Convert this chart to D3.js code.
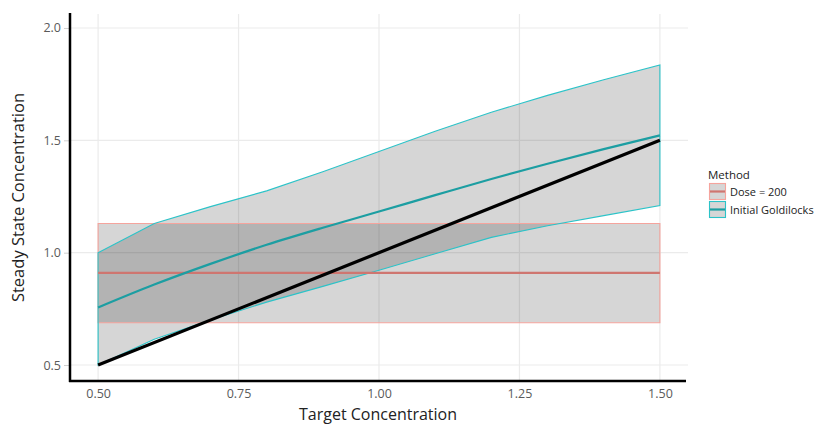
<!DOCTYPE html>
<html><head><meta charset="utf-8">
<script src="https://cdn.jsdelivr.net/npm/d3@7"></script>
<style>body{margin:0;background:#fff}svg{display:block}</style>
</head><body><svg id="c" width="816" height="426"></svg>
<script>
const targets = [0.5,0.6,0.7,0.8,0.9,1.0,1.1,1.2,1.3,1.4,1.5];
const goldMean  = [0.756,0.858,0.950,1.035,1.111,1.183,1.256,1.328,1.396,1.461,1.522];
const goldUpper = [1.00,1.13,1.205,1.275,1.36,1.45,1.54,1.625,1.70,1.77,1.835];
const goldLower = [0.50,0.615,0.70,0.78,0.85,0.922,0.995,1.068,1.12,1.165,1.21];
const doseMean  = [0.91,0.91,0.91,0.91,0.91,0.91,0.91,0.91,0.91,0.91,0.91];
const doseUpper = [1.13,1.13,1.13,1.13,1.13,1.13,1.13,1.13,1.13,1.13,1.13];
const doseLower = [0.688,0.688,0.688,0.688,0.688,0.688,0.688,0.688,0.688,0.688,0.688];
const xTicks = [0.5,0.75,1.0,1.25,1.5];
const yTicks = [0.5,1.0,1.5,2.0];
const methods = ["Dose = 200","Initial Goldilocks"];

const svg = d3.select("#c");
const L=70,R=688,T=14,B=381;
const x = d3.scaleLinear().domain([0.45,1.55]).range([L,R]);
const y = d3.scaleLinear().domain([0.4289,2.0622]).range([B,T]);

const g = svg.append("g");
g.selectAll(".gx").data(xTicks).enter().append("line")
  .attr("x1",d=>x(d)).attr("x2",d=>x(d)).attr("y1",T).attr("y2",B)
  .attr("stroke","#ebebeb").attr("stroke-width",1.2);
g.selectAll(".gy").data(yTicks).enter().append("line")
  .attr("x1",L).attr("x2",R).attr("y1",d=>y(d)).attr("y2",d=>y(d))
  .attr("stroke","#ebebeb").attr("stroke-width",1.2);

const pts = (lo,hi)=>targets.map((t,i)=>({t,lo:lo[i],hi:hi[i]}));
const area = d3.area().x(d=>x(d.t)).y0(d=>y(d.lo)).y1(d=>y(d.hi));
const series = [
  {name:methods[0], lo:doseLower, hi:doseUpper, m:doseMean, outline:"#f5a49d", line:"#cf7670"},
  {name:methods[1], lo:goldLower, hi:goldUpper, m:goldMean, outline:"#2cc3c8", line:"#1c9ea2"}
];
series.forEach(s=>{
  g.append("path").datum(pts(s.lo,s.hi)).attr("d",area).attr("fill","#000").attr("fill-opacity",0.16).attr("stroke","none");
});
series.forEach(s=>{
  const p = pts(s.lo,s.hi);
  const outlinePts = p.map(d=>[x(d.t),y(d.hi)]).concat(p.slice().reverse().map(d=>[x(d.t),y(d.lo)]));
  g.append("path").attr("d",d3.line()(outlinePts)+"Z").attr("fill","none").attr("stroke",s.outline).attr("stroke-width",1.1);
});
series.forEach(s=>{
  g.append("path").datum(targets.map((t,i)=>[t,s.m[i]]))
    .attr("d",d3.line().curve(d3.curveMonotoneX).x(d=>x(d[0])).y(d=>y(d[1])))
    .attr("fill","none").attr("stroke",s.line).attr("stroke-width",2.2);
});
g.append("path").datum([[0.5,0.5],[1.5,1.5]])
  .attr("d",d3.line().x(d=>x(d[0])).y(d=>y(d[1])))
  .attr("fill","none").attr("stroke","#000").attr("stroke-width",3.2);

const xa = svg.append("g").attr("transform",`translate(0,${B})`)
  .call(d3.axisBottom(x).tickValues(xTicks).tickFormat(d3.format(".2f")).tickSize(0).tickPadding(8));
const ya = svg.append("g").attr("transform",`translate(${L},0)`)
  .call(d3.axisLeft(y).tickValues(yTicks).tickFormat(d3.format(".1f")).tickSize(6).tickPadding(3));
[xa,ya].forEach(a=>{
  a.select(".domain").remove();
  a.selectAll("text").attr("fill","#5a5a5a").style("font-family","Open Sans").style("font-size","12.5px");
  a.selectAll("line").attr("stroke","#d0d0d0");
});
svg.append("line").attr("x1",L).attr("x2",L).attr("y1",T-1).attr("y2",B+1).attr("stroke","#000").attr("stroke-width",2.5);
svg.append("line").attr("x1",L-1).attr("x2",686).attr("y1",B).attr("y2",B).attr("stroke","#000").attr("stroke-width",2.5);

svg.append("text").attr("x",(L+R)/2-1).attr("y",420).attr("text-anchor","middle")
  .style("font-family","Open Sans").style("font-size","16px").attr("fill","#222").text("Target Concentration");
svg.append("text").attr("transform",`translate(24,${(T+B)/2}) rotate(-90)`).attr("text-anchor","middle")
  .style("font-family","Open Sans").style("font-size","16.5px").attr("fill","#222").text("Steady State Concentration");

const lg = svg.append("g").attr("transform","translate(708,168)");
lg.append("text").attr("x",0).attr("y",11).style("font-family","Open Sans").style("font-size","11.5px").attr("fill","#222").text("Method");
series.forEach((s,i)=>{
  const yy = 15+i*18;
  lg.append("rect").attr("x",1.5).attr("y",yy+0.5).attr("width",16).attr("height",16)
    .attr("fill","#d6d6d6").attr("stroke",s.outline).attr("stroke-width",1.1);
  lg.append("line").attr("x1",2).attr("x2",17).attr("y1",yy+8.5).attr("y2",yy+8.5).attr("stroke",s.line).attr("stroke-width",2.2);
  lg.append("text").attr("x",22).attr("y",yy+12.5).style("font-family","Open Sans").style("font-size","11px").attr("fill","#222").text(s.name);
});
</script></body></html>
